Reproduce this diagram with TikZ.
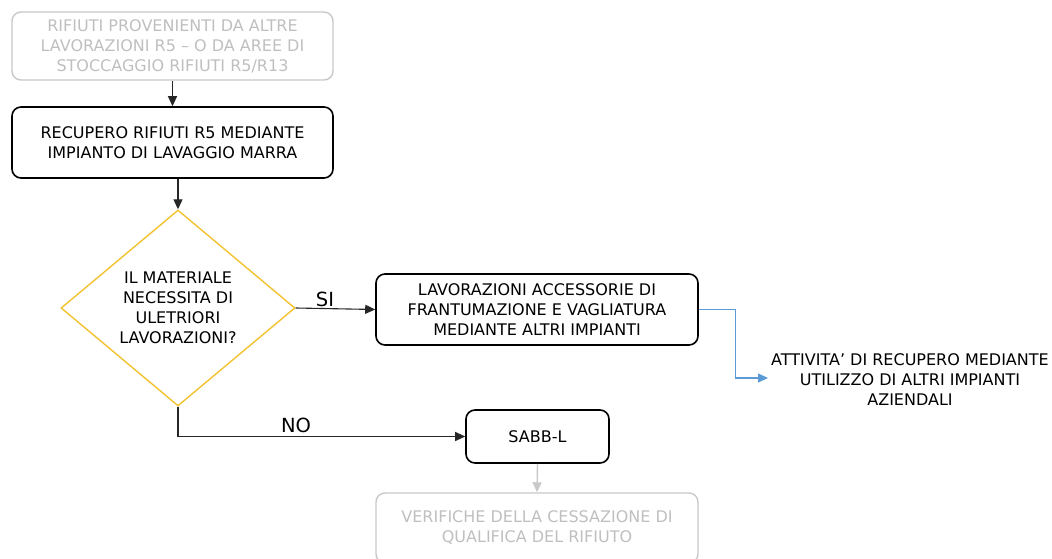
\documentclass[tikz,border=0pt]{standalone}
\usepackage{fontspec}
\setmainfont{DejaVu Sans}
\usetikzlibrary{shapes.geometric,arrows.meta}
\definecolor{faded}{HTML}{C8C8C8}
\definecolor{fadedtext}{HTML}{BFBFBF}
\definecolor{decision}{HTML}{F2C230}
\definecolor{link}{HTML}{5B9BD5}
\tikzset{
  box/.style={draw=black, line width=1.6pt, rounded corners=9pt, align=center, inner sep=0pt},
  ghost/.style={draw=faded, line width=1.4pt, rounded corners=9pt, align=center, inner sep=0pt, text=fadedtext},
  flow/.style={draw=black!85, line width=1.1pt, -{Triangle[length=10pt,width=9pt]}},
  label/.style={font=\fontsize{19.5}{22}\selectfont},
  txt/.style={font=\fontsize{16}{20}\selectfont}
}
\begin{document}
\begin{tikzpicture}[x=1pt,y=-1pt]
\useasboundingbox (0,0) rectangle (1052,559);
\begin{scope}
\clip (0,0) rectangle (1052,559);
% incoming material
\node[ghost, txt, minimum width=321pt, minimum height=68pt] (src) at (172.5,46) {RIFIUTI PROVENIENTI DA ALTRE\\LAVORAZIONI R5 – O DA AREE DI\\STOCCAGGIO RIFIUTI R5/R13};
% washing plant
\node[box, txt, minimum width=321pt, minimum height=71pt] (wash) at (172.5,142.5) {RECUPERO RIFIUTI R5 MEDIANTE\\IMPIANTO DI LAVAGGIO MARRA};
% decision
\node[diamond, draw=decision, line width=1.4pt, minimum width=234pt, minimum height=196pt, inner sep=0pt, align=center, txt] (dec) at (178,308) {IL MATERIALE\\NECESSITA DI\\ULETRIORI\\LAVORAZIONI?};
% further processing
\node[box, txt, minimum width=322pt, minimum height=71pt] (acc) at (537,309.5) {LAVORAZIONI ACCESSORIE DI\\FRANTUMAZIONE E VAGLIATURA\\MEDIANTE ALTRI IMPIANTI};
% other company plants
\node[txt, align=center] (other) at (910,380) {ATTIVITA’ DI RECUPERO MEDIANTE\\UTILIZZO DI ALTRI IMPIANTI\\AZIENDALI};
\coordinate (otherin) at (768,378);
% product
\node[box, txt, minimum width=143pt, minimum height=53pt] (sabb) at (537.5,436.5) {SABB-L};
% end-of-waste checks
\node[ghost, txt, minimum width=322pt, minimum height=70pt] (check) at (537,528) {VERIFICHE DELLA CESSAZIONE DI\\QUALIFICA DEL RIFIUTO};
\end{scope}
% connectors
\draw[flow] (src.south) -- (wash.north);
\draw[flow] (wash.south -| dec.north) -- (dec.north);
\draw[flow] (dec.east) -- (acc.west);
\node[label] (si) at (325,299) {SI};
\draw[flow] (dec.south) |- (sabb.west);
\node[label] (no) at (296,425) {NO};
\draw[draw=link, line width=1.3pt, -{Triangle[length=10pt,width=9pt]}] (acc.east) -- ++(37,0) |- (otherin);
\draw[draw=faded, line width=1.4pt, -{Triangle[length=10pt,width=9pt]}] (sabb.south) -- (check.north);
\end{tikzpicture}
\end{document}
